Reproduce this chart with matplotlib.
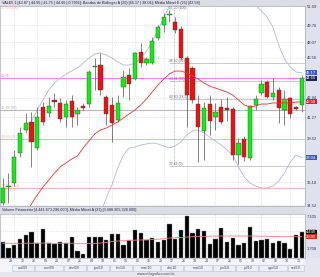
import matplotlib
matplotlib.use('Agg')
import matplotlib.pyplot as plt
from matplotlib.patches import Rectangle
from matplotlib.transforms import blended_transform_factory
from matplotlib.ticker import FixedLocator, NullLocator, NullFormatter

plt.rcParams['font.family'] = ['Liberation Sans', 'DejaVu Sans']

# weekly candles VALE5, 21/set/2009 .. 20/set/2010
opens = [34.69, 35.86, 36.12, 38.39, 40.22, 40.88, 38.78, 42.14, 41.64, 42.75,
         42.49, 41.30, 42.66, 41.55, 42.23, 42.40, 45.66, 45.89, 43.01, 42.32,
         41.05, 43.89, 44.97, 44.60, 47.11, 46.07, 46.07, 48.47, 49.76, 50.78,
         50.06, 49.36, 46.54, 45.61, 42.40, 40.14, 42.40, 41.30, 42.14, 42.10,
         41.97, 38.24, 39.50, 38.00, 42.32, 43.36, 44.33, 43.01, 43.62, 41.89,
         42.92, 42.14, 42.30]
highs = [36.49, 36.86, 38.63, 40.47, 41.64, 41.72, 42.14, 42.57, 43.01, 43.36,
         42.92, 42.75, 43.18, 42.14, 42.49, 45.42, 46.54, 47.02, 43.18, 43.01,
         43.18, 45.42, 45.61, 47.11, 47.98, 46.64, 48.56, 49.76, 50.98, 51.30,
         50.57, 49.66, 46.73, 45.79, 43.18, 42.57, 43.18, 42.49, 42.83, 43.01,
         42.14, 39.58, 39.74, 42.32, 43.18, 44.51, 44.51, 44.69, 43.89, 43.62,
         43.01, 42.23, 44.95]
lows = [34.55, 34.69, 35.90, 38.08, 39.98, 37.32, 38.63, 40.63, 41.30, 42.14,
        40.88, 40.47, 40.47, 40.63, 41.89, 42.14, 43.62, 43.18, 40.63, 39.26,
        40.88, 43.01, 42.75, 44.51, 45.70, 45.89, 45.98, 48.27, 49.06, 50.06,
        48.96, 46.35, 40.47, 42.49, 37.70, 37.85, 39.82, 40.22, 40.72, 40.96,
        37.85, 37.54, 37.77, 37.85, 41.89, 43.18, 42.92, 42.75, 40.80, 40.63,
        41.22, 41.89, 41.75]
closes = [35.76, 35.94, 38.08, 39.98, 40.80, 39.26, 41.30, 40.88, 42.23, 42.57,
          41.13, 42.40, 41.30, 41.89, 42.06, 45.24, 45.75, 43.62, 41.55, 40.80,
          42.49, 44.78, 44.15, 47.02, 46.07, 46.45, 48.17, 49.56, 50.57, 50.88,
          49.26, 46.54, 43.18, 42.75, 40.47, 42.06, 40.96, 41.72, 40.88, 41.89,
          38.24, 39.18, 38.08, 42.23, 42.83, 44.15, 43.01, 43.36, 42.06, 42.83,
          41.55, 41.97, 44.66]

N = None
ema21 = [N, N, N, N, 33.92, 34.62, 35.25, 35.83, 36.34, 36.86,
         37.32, 37.62, 37.93, 38.16, 38.78, 39.34, 39.90, 40.22, 40.38, 40.63,
         40.88, 41.22, 41.55, 41.89, 42.32, 42.83, 43.44, 44.06, 44.60, 45.06,
         45.33, 45.33, 45.15, 44.87, 44.60, 44.24, 43.97, 43.79, 43.62, 43.44,
         43.18, 42.75, 42.32, 42.14, 42.23, 42.40, 42.40, 42.49, 42.49, 42.49,
         42.49, 42.57, 42.58]
bb_upper = [N, N, N, N, N, 40.96, 41.89, 42.75, 43.62, 44.24,
            44.69, 45.06, 45.33, 45.61, 46.07, 46.54, 46.92, 47.02, 46.83, 46.54,
            46.17, 45.89, 45.89, 46.07, 46.54, 47.21, 48.07, 49.26, 50.47, 51.71,
            N, N, N, N, N, N, N, N, N, N,
            N, N, N, 52.13, 51.82, 51.19, 50.57, 49.56, 47.78, 46.45,
            45.70, 45.24, 45.17]
bb_lower = [N, N, N, N, N, N, N, N, N, N,
            N, N, N, N, N, N, N, 33.92, 35.04, 35.98,
            37.24, 38.24, 38.78, 38.86, 39.02, 39.10, 39.18, 39.10, 38.94, 38.78,
            38.94, 39.26, 39.82, 40.14, 40.22, 39.98, 39.65, 39.34, 39.02, 38.63,
            38.24, 37.32, 36.57, 36.12, 35.90, 35.76, 35.76, 35.90, 36.27, 36.86,
            37.70, 38.24, 38.04]

# volume financeiro (trilhoes) and its 21-period average
volume = [2.84, 1.81, 2.27, 3.25, 3.98, 4.44, 2.66, 4.95, 2.66, 2.39,
          2.84, 2.56, 3.64, 1.30, 0.68, 3.69, 3.69, 3.69, 3.13, 4.10,
          4.10, 2.27, 3.13, 4.83, 4.27, 3.13, 3.42, 2.84, 3.13, 5.81,
          3.25, 4.83, 7.22, 4.27, 5.00, 4.71, 2.39, 3.30, 5.18, 2.84,
          3.52, 2.27, 2.56, 5.40, 2.95, 3.13, 3.30, 2.66, 3.01, 2.66,
          1.54, 3.98, 4.44]
vol_ma = [2.58, 2.56, 2.55, 2.56, 2.57, 2.58, 2.57, 2.60, 2.58, 2.56,
          2.56, 2.56, 2.57, 2.54, 2.50, 2.52, 2.54, 2.60, 2.70, 2.85,
          2.95, 3.00, 3.05, 3.10, 3.13, 3.15, 3.20, 3.25, 3.35, 3.45,
          3.50, 3.55, 3.62, 3.68, 3.72, 3.75, 3.78, 3.80, 3.81, 3.81,
          3.81, 3.80, 3.80, 3.80, 3.79, 3.78, 3.76, 3.74, 3.72, 3.70,
          3.69, 3.68, 3.69]

day_labels = ['28', '12', '26', '09', '23', '07', '21', '04', '18', '01', '15', '01', '15',
              '29', '12', '26', '10', '24', '07', '21', '05', '19', '02', '16', '30', '13']
months = ['out/09', 'nov/09', 'dez/09', 'jan/10', 'fev/10', 'mar/10',
          'abr/10', 'mai/10', 'jun/10', 'jul/10', 'ago/10', 'set/10']
month_first = [2, 6, 11, 15, 19, 23, 28, 32, 37, 41, 45, 50]
month_last = [5, 10, 14, 18, 22, 27, 31, 36, 40, 44, 49, 52]

price_ticks = [34.52, 36.18, 39.52, 41.27, 42.94, 46.56, 48.07, 49.76, 51.69]
vol_ticks = [1.708, 4.662, 7.105]

# lines drawn on the chart
hlines = [44.74, 41.89, 39.50, 35.76]
hline_labels = ['44.74', '41.89 (50)', '39.50 (38.2)', '35.76 (23.6)']
hline_colors = ['#ff66ff', '#a8a8a8', '#f4a8a8', '#f4a8a8']
fib_levels = [51.30, 46.10, 44.42, 42.80, 37.43]
fib_pcts = ['100', '61.8', '50', '38.2', '0']

W, H = 320, 277
GREEN, RED = '#11ee11', '#ee1111'


def box(x0, y0, x1, y1):
    return [x0 / W, 1 - y1 / H, (x1 - x0) / W, (y1 - y0) / H]


def frect(x0, y0, x1, y1, fc):
    fig.add_artist(Rectangle((x0 / W, 1 - y1 / H), (x1 - x0) / W, (y1 - y0) / H,
                             transform=fig.transFigure, fc=fc, ec='none', zorder=-5))


fig = plt.figure(figsize=(3.2, 2.77), dpi=100)
fig.patch.set_facecolor('#e6e6f0')
frect(0, 0, 320, 5.7, '#dcdce4')
frect(0, 206, 305, 214.3, '#dcdce4')
frect(305, 5.7, 320, 258.3, '#dfe1ee')
frect(0, 258.3, 305, 271.5, '#f4f4fa')

ax = fig.add_axes(box(0, 5.7, 305, 206))
axv = fig.add_axes(box(0, 214.3, 305, 258.3))
axd = fig.add_axes(box(0, 258.3, 305, 271.5))

idx = list(range(len(opens)))
xlim = (-0.47, 52.57)

# ---- price panel
ax.set_yscale('log')
ax.set_xlim(*xlim)
ax.set_ylim(34.48, 51.75)
ax.yaxis.set_major_locator(FixedLocator(price_ticks))
ax.yaxis.set_minor_locator(NullLocator())
ax.yaxis.set_minor_formatter(NullFormatter())
ax.set_yticklabels(['%.2f' % t for t in price_ticks])
ax.yaxis.tick_right()
ax.tick_params(axis='y', length=0, pad=1.5, labelsize=3, labelcolor='#303050')
ax.set_xticks(month_first)
ax.tick_params(axis='x', length=0, labelbottom=False)
ax.grid(True, color='#cfcfd8', lw=0.4, linestyle=(0, (2, 2)))
ax.set_axisbelow(True)
for s in ax.spines.values():
    s.set_color('#a8acc0')
    s.set_linewidth(0.5)

ytr = blended_transform_factory(ax.transAxes, ax.transData)
for lv, lab, col in zip(hlines, hline_labels, hline_colors):
    ax.axhline(lv, color=col, lw=0.6, zorder=1)
    ax.text(0.004, lv, lab, transform=ytr, fontsize=2.4, color=col,
            va='bottom', ha='left')
ax.text(0.004, 51.3, '57.56 (100)', transform=ytr, fontsize=2.4, color='#f4a8a8',
        va='bottom', ha='left')

for lv, pc in zip(fib_levels, fib_pcts):
    if pc != '100':
        ax.hlines(lv, 28.9, xlim[1], colors='#b4b4b4', lw=0.5, zorder=1)
    ax.text(28.9, lv, '%.2f (%s)' % (lv, pc), fontsize=2.4, color='#606060',
            va='bottom', ha='left', zorder=6)
ax.vlines(29.8, fib_levels[-1], fib_levels[0], colors='#999999',
          linestyles=(0, (1, 1)), lw=0.5, zorder=1)

ax.plot(idx, bb_upper, color='#b0b6d8', lw=0.6, zorder=2)
ax.plot(idx, bb_lower, color='#b0b6d8', lw=0.6, zorder=2)
ax.plot(idx, ema21, color='#e83030', lw=0.6, zorder=5)

for i in idx:
    o, h, l, c = opens[i], highs[i], lows[i], closes[i]
    col = GREEN if c >= o else RED
    ax.vlines(i, l, h, colors='#505050', lw=0.5, zorder=3)
    ax.bar(i, max(abs(c - o), 0.06), bottom=min(o, c), width=0.72, color=col,
           edgecolor='#404040', lw=0.3, zorder=4)

tags = [(bb_upper[-1], '#3a5cc0', 'white'), (closes[-1], '#1c2450', 'white'),
        (ema21[-1], '#e02020', 'white'), (bb_lower[-1], '#3a5cc0', 'white')]
for val, fc, tc in tags:
    ax.text(1.004, val, '%.2f' % val, transform=ytr, fontsize=3, color=tc,
            va='center', ha='left', bbox=dict(boxstyle='square,pad=0.12', fc=fc, ec='none'))

fig.text(2 / W, 1 - 3 / H,
         'VALE5 1 [42.87 | 44.95 | 41.75 | 44.66 | 0.7931]; Bandas de Bollinger A (20) '
         '[45.17 | 38.04]; M\u00e9dia M\u00f3vel E (21) [42.58]',
         fontsize=2.7, color='#202040', va='center', ha='left')

# ---- volume panel
axv.set_xlim(*xlim)
axv.set_ylim(0, 7.51)
axv.bar(idx, volume, width=0.72, color='black', edgecolor='#909090', lw=0.3, zorder=3)
axv.plot(idx, vol_ma, color='#f08080', lw=0.6, zorder=4)
axv.yaxis.tick_right()
axv.set_yticks(vol_ticks)
axv.set_yticklabels(['%.3f' % t for t in vol_ticks])
axv.tick_params(axis='y', length=0, pad=1.5, labelsize=3, labelcolor='#303050')
axv.set_xticks(month_first)
axv.tick_params(axis='x', length=0, labelbottom=False)
axv.grid(True, color='#cfcfd8', lw=0.4, linestyle=(0, (2, 2)))
axv.set_axisbelow(True)
for s in axv.spines.values():
    s.set_color('#a8acc0')
    s.set_linewidth(0.5)
vtr = blended_transform_factory(axv.transAxes, axv.transData)
for val, fc in [(volume[-1], '#111111'), (vol_ma[-1], '#e02020')]:
    axv.text(1.004, val, '%.3f' % val, transform=vtr, fontsize=3, color='white',
             va='center', ha='left', bbox=dict(boxstyle='square,pad=0.12', fc=fc, ec='none'))
fig.text(2 / W, 1 - 210.2 / H,
         'Volume Financeiro [4.441.673.296.000]; M\u00e9dia M\u00f3vel A (21) [3.688.305.328.000]',
         fontsize=2.7, color='#202040', va='center', ha='left')

# ---- date strip
axd.set_xlim(*xlim)
axd.set_ylim(0, 1)
axd.axis('off')
for k, lab in enumerate(day_labels):
    axd.text(2 * k + 1 + 0.45, 0.78, lab, fontsize=2.6, color='#404060',
             ha='center', va='center')
for m, a, b in zip(months, month_first, month_last):
    axd.add_patch(Rectangle((a - 0.42, 0.06), b - a + 0.84, 0.44, fc='#eef0f8',
                            ec='#b4b8cc', lw=0.4))
    axd.text((a + b) / 2, 0.28, m, fontsize=2.6, color='#404060',
             ha='center', va='center')

fig.text(156 / W, 1 - 274 / H, 'www.infografica.com.br', fontsize=2.6,
         color='#404060', ha='center', va='center')

fig.savefig('out.png', dpi=100, facecolor=fig.get_facecolor())
